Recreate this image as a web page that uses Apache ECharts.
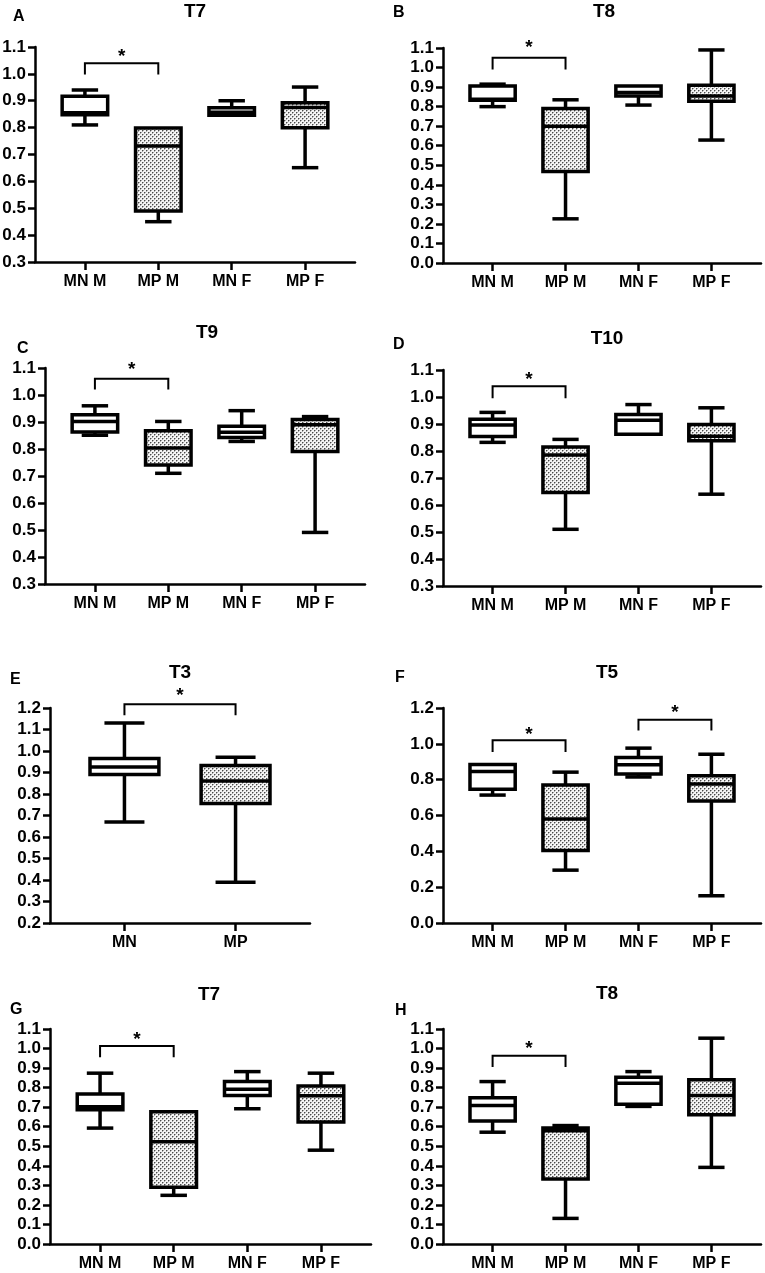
<!DOCTYPE html>
<html>
<head>
<meta charset="utf-8">
<script src="https://cdn.jsdelivr.net/npm/echarts@6/dist/echarts.min.js"></script>
<style>
html, body { margin: 0; padding: 0; background: #fff; }
#main { width: 765px; height: 1273px; }
</style>
</head>
<body>
<div id="main"></div>
<script>
var cats4 = ['MN M', 'MP M', 'MN F', 'MP F'];
var cats2 = ['MN', 'MP'];
var panelTitles = ['T7', 'T8', 'T9', 'T10', 'T3', 'T5', 'T7', 'T8'];
var panelLetters = ['A', 'B', 'C', 'D', 'E', 'F', 'G', 'H'];

// each box: [low whisker, Q1, median, Q3, high whisker]
var boxA = [[0.81, 0.848, 0.855, 0.917, 0.94], [0.45, 0.49, 0.732, 0.799, 0.799], [0.846, 0.846, 0.857, 0.874, 0.90], [0.651, 0.80, 0.875, 0.893, 0.951]];
var boxB = [[0.80, 0.833, 0.838, 0.905, 0.915], [0.226, 0.468, 0.70, 0.79, 0.835], [0.808, 0.855, 0.872, 0.905, 0.905], [0.629, 0.828, 0.855, 0.91, 1.09]];
var boxC = [[0.851, 0.863, 0.902, 0.927, 0.96], [0.71, 0.741, 0.804, 0.868, 0.902], [0.828, 0.843, 0.862, 0.884, 0.942], [0.491, 0.791, 0.89, 0.909, 0.92]];
var boxD = [[0.832, 0.854, 0.896, 0.918, 0.943], [0.51, 0.646, 0.785, 0.815, 0.843], [0.862, 0.862, 0.914, 0.935, 0.972], [0.64, 0.838, 0.855, 0.898, 0.96]];
var boxE = [[0.67, 0.891, 0.926, 0.965, 1.13], [0.39, 0.756, 0.86, 0.933, 0.971]];
var boxF = [[0.714, 0.746, 0.846, 0.885, 0.885], [0.295, 0.404, 0.58, 0.77, 0.842], [0.815, 0.831, 0.883, 0.924, 0.976], [0.152, 0.681, 0.776, 0.822, 0.942]];
var boxG = [[0.593, 0.687, 0.702, 0.767, 0.874], [0.249, 0.29, 0.523, 0.676, 0.676], [0.692, 0.76, 0.792, 0.831, 0.882], [0.48, 0.624, 0.758, 0.809, 0.874]];
var boxH = [[0.572, 0.629, 0.709, 0.748, 0.831], [0.131, 0.332, 0.58, 0.593, 0.606], [0.704, 0.715, 0.823, 0.853, 0.882], [0.392, 0.661, 0.76, 0.84, 1.053]];

// significance brackets: [from group, to group, bar level, leg end, star level]
var sigA = [[0, 1, 1.04, 0.998, 1.08]];
var sigB = [[0, 1, 1.05, 0.99, 1.12]];
var sigC = [[0, 1, 1.06, 1.02, 1.107]];
var sigD = [[0, 1, 1.04, 0.995, 1.077]];
var sigE = [[0, 1, 1.217, 1.166, 1.274]];
var sigF = [[0, 1, 1.02, 0.955, 1.075], [2, 3, 1.135, 1.075, 1.197]];
var sigG = [[0, 1, 1.013, 0.955, 1.065]];
var sigH = [[0, 1, 0.963, 0.905, 1.018]];

var yMin = [0.3, 0, 0.3, 0.3, 0.2, 0, 0, 0];
var yMax = [1.1, 1.1, 1.1, 1.1, 1.2, 1.2, 1.1, 1.1];
var yStep = [0.1, 0.1, 0.1, 0.1, 0.1, 0.2, 0.1, 0.1];

var panelBoxes = [boxA, boxB, boxC, boxD, boxE, boxF, boxG, boxH];
var panelSig = [sigA, sigB, sigC, sigD, sigE, sigF, sigG, sigH];
var panelCats = [cats4, cats4, cats4, cats4, cats2, cats4, cats4, cats4];

var grids = [
	{left: 35, top: 47, width: 320, height: 215},
	{left: 443, top: 48, width: 318, height: 215},
	{left: 45, top: 368, width: 320, height: 216},
	{left: 443, top: 370, width: 318, height: 216},
	{left: 50, top: 708, width: 260, height: 215},
	{left: 443, top: 708, width: 318, height: 215},
	{left: 50, top: 1029, width: 321, height: 215},
	{left: 443, top: 1029, width: 318, height: 215}
];
var titlePos = [[195, 12], [604, 12], [207, 333], [607, 339], [180, 673], [607, 673], [209, 995], [607, 994]];
var letterPos = [[13, 17], [393, 13], [17, 349], [393, 345], [10, 680], [395, 678], [10, 1010], [395, 1011]];

var FONT = '"Liberation Sans", Arial, sans-serif';

// stipple fill for MP boxes
var tile = document.createElement('canvas');
tile.width = 4;
tile.height = 4;
var tctx = tile.getContext('2d');
tctx.fillStyle = '#f4f4f4';
tctx.fillRect(0, 0, 4, 4);
[[0, 0], [2, 2]].forEach(function (d) {
	tctx.fillStyle = '#a8a8a8';
	tctx.fillRect(d[0] + 1, d[1], 1, 1);
	tctx.fillRect(d[0], d[1] + 1, 1, 1);
	tctx.fillStyle = '#4a4a4a';
	tctx.fillRect(d[0], d[1], 1, 1);
});
var stipple = {image: tile, repeat: 'repeat'};

function renderBox(params, api) {
	var x = api.value(0);
	var lo = api.value(1), q1 = api.value(2), med = api.value(3), q3 = api.value(4), hi = api.value(5);
	var dotted = api.value(6);
	var bw = 0.31, cw = 0.18;
	var ln = {stroke: '#000', lineWidth: 3.5};
	function seg(x1, y1, x2, y2) {
		var a = api.coord([x1, y1]), b = api.coord([x2, y2]);
		return {type: 'line', shape: {x1: a[0], y1: a[1], x2: b[0], y2: b[1]}, style: ln};
	}
	var tl = api.coord([x - bw, q3]);
	var br = api.coord([x + bw, q1]);
	var kids = [];
	if (hi > q3) {
		kids.push(seg(x, q3, x, hi));
		kids.push(seg(x - cw, hi, x + cw, hi));
	}
	if (lo < q1) {
		kids.push(seg(x, q1, x, lo));
		kids.push(seg(x - cw, lo, x + cw, lo));
	}
	kids.push({
		type: 'rect',
		shape: {x: tl[0], y: tl[1], width: br[0] - tl[0], height: br[1] - tl[1]},
		style: {fill: dotted ? stipple : '#fff', stroke: '#000', lineWidth: 3.5}
	});
	kids.push(seg(x - bw, med, x + bw, med));
	return {type: 'group', children: kids};
}

function renderSig(params, api) {
	var a = api.value(0), b = api.value(1), top = api.value(2), end = api.value(3), star = api.value(4);
	var p1 = api.coord([a, end]), p2 = api.coord([a, top]), p3 = api.coord([b, top]), p4 = api.coord([b, end]);
	var s = api.coord([(a + b) / 2, star]);
	return {type: 'group', children: [
		{type: 'polyline', shape: {points: [p1, p2, p3, p4]}, style: {stroke: '#000', lineWidth: 2, fill: null}},
		{type: 'text', x: s[0], y: s[1] + 4, style: {text: '*', font: 'bold 19px ' + FONT, fill: '#000', align: 'center', verticalAlign: 'middle'}}
	]};
}

var option = {
	animation: false,
	textStyle: {fontFamily: FONT},
	grid: [],
	xAxis: [],
	yAxis: [],
	series: [],
	graphic: []
};

panelBoxes.forEach(function (boxes, p) {
	var cats = panelCats[p];
	var pad = cats.length === 2 ? 0.67 : 0.68;
	var g = grids[p];
	option.grid.push({left: g.left, top: g.top, width: g.width, height: g.height, outerBoundsMode: 'none'});
	var ticks = cats.map(function (c, i) { return i; });
	option.xAxis.push({
		type: 'value', gridIndex: p, min: -pad, max: cats.length - 1 + pad,
		axisLine: {show: true, onZero: false, lineStyle: {color: '#000', width: 2.5}},
		axisTick: {show: true, customValues: ticks, length: 8, lineStyle: {color: '#000', width: 2.5}},
		axisLabel: {
			customValues: ticks, margin: 12, color: '#000', fontSize: 16, fontWeight: 'bold', fontFamily: FONT,
			formatter: function (v) { return cats[Math.round(v)]; }
		},
		splitLine: {show: false}
	});
	option.yAxis.push({
		type: 'value', gridIndex: p, min: yMin[p], max: yMax[p], interval: yStep[p],
		axisLine: {show: true, onZero: false, lineStyle: {color: '#000', width: 2.5}},
		axisTick: {show: true, length: 7, lineStyle: {color: '#000', width: 2.5}},
		axisLabel: {
			margin: 9, color: '#000', fontSize: 17, fontWeight: 'bold', fontFamily: FONT,
			formatter: function (v) { return v.toFixed(1); }
		},
		splitLine: {show: false}
	});
	option.series.push({
		type: 'custom', xAxisIndex: p, yAxisIndex: p,
		renderItem: renderBox,
		data: boxes.map(function (b, i) { return [i].concat(b).concat([cats[i].indexOf('MP') === 0 ? 1 : 0]); })
	});
	option.series.push({
		type: 'custom', xAxisIndex: p, yAxisIndex: p,
		renderItem: renderSig,
		data: panelSig[p]
	});
	option.graphic.push({
		type: 'text', x: titlePos[p][0], y: titlePos[p][1],
		style: {text: panelTitles[p], font: 'bold 19px ' + FONT, fill: '#000', align: 'center', verticalAlign: 'middle'}
	});
	option.graphic.push({
		type: 'text', x: letterPos[p][0], y: letterPos[p][1],
		style: {text: panelLetters[p], font: 'bold 16px ' + FONT, fill: '#000', align: 'left', verticalAlign: 'middle'}
	});
});

var myChart = echarts.init(document.getElementById('main'), null, {renderer: 'canvas'});
myChart.setOption(option);
window.onresize = myChart.resize;
</script>
</body>
</html>
